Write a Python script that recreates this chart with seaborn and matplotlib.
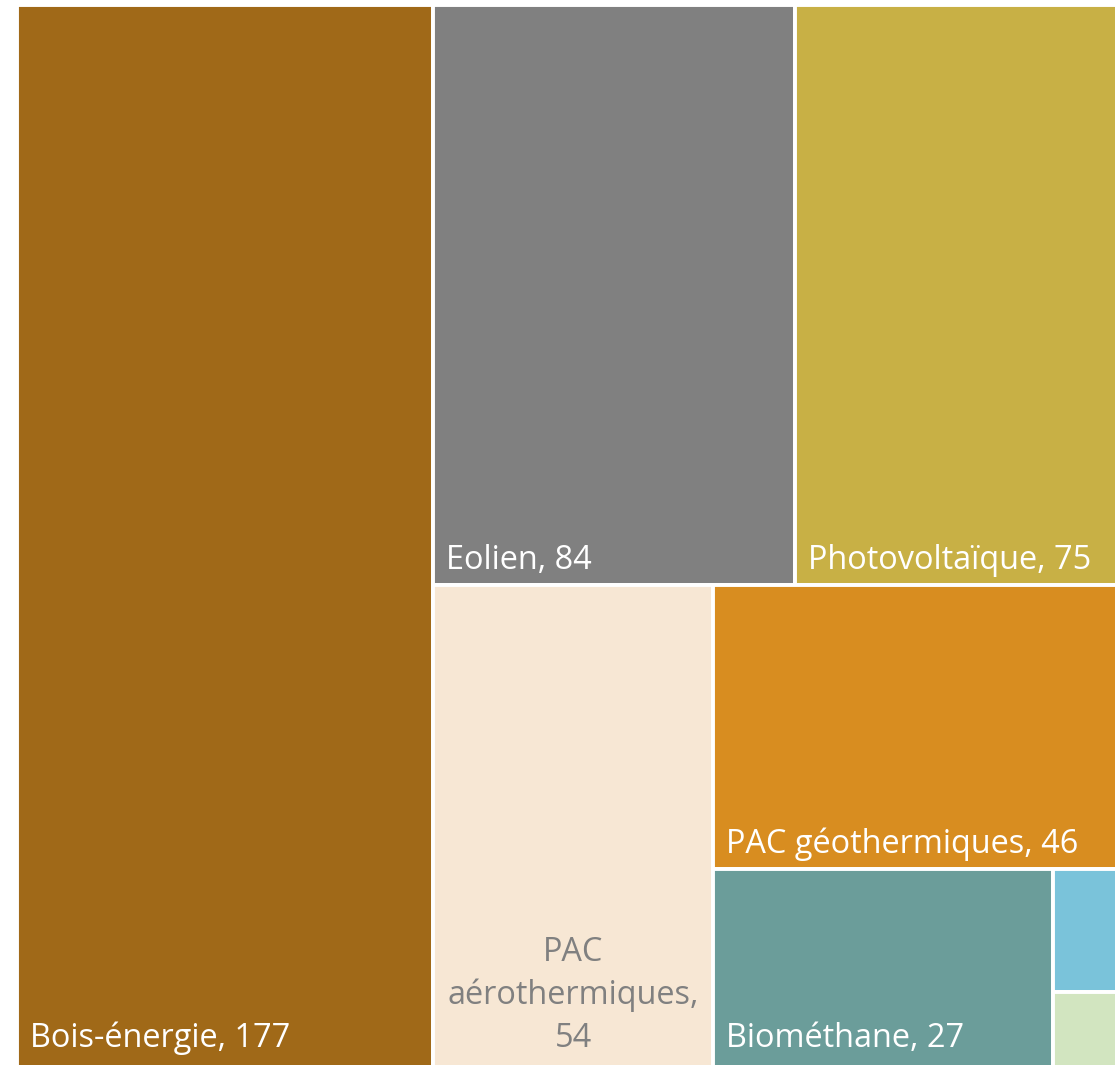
import matplotlib
matplotlib.use("Agg")
import matplotlib.pyplot as plt
import seaborn as sns
from matplotlib.patches import Rectangle

# ---- data ----
categories = ["Bois-énergie", "Eolien", "Photovoltaïque", "PAC aérothermiques",
              "PAC géothermiques", "Biométhane", "Hydroélectricité", "Solaire thermique"]
values = [177, 84, 75, 54, 46, 27, 3.2, 2]
colors = ["#A06918", "#808080", "#C8B045", "#F7E7D4",
          "#D88D20", "#6B9D9A", "#7AC3DA", "#D2E5C0"]
text_colors = ["white", "white", "white", "#808080", "white", "white", "white", "white"]
show_label = [True, True, True, True, True, True, False, False]
row_sizes = [1, 2, 1, 1, 1, 1, 1]   # squarified row breaks

sns.set_theme(style="white")
plt.rcParams['font.family'] = ['Open Sans', 'DejaVu Sans']

FW, FH = 1115, 1065
W, H = 1101, 1063


def layout(vals, W, H, rows):
    rects = []
    x0, y0, w, h = 0.0, 0.0, float(W), float(H)
    scale = W * H / sum(vals)
    i = 0
    for n in rows:
        row = vals[i:i + n]
        i += n
        area = sum(row) * scale
        if w >= h:
            cw = area / h
            yy = y0
            for v in row:
                rh = v * scale / cw
                rects.append((x0, yy, cw, rh))
                yy += rh
            x0 += cw
            w -= cw
        else:
            rh = area / w
            xx = x0
            for v in row:
                rw = v * scale / rh
                rects.append((xx, y0, rw, rh))
                xx += rw
            y0 += rh
            h -= rh
    return rects


fig = plt.figure(figsize=(FW / 100, FH / 100), dpi=100)
ax = fig.add_axes([17 / FW, (FH - 5 - H) / FH, W / FW, H / FH])
ax.set_xlim(0, W)
ax.set_ylim(H, 0)
ax.axis("off")

rects = layout(values, W, H, row_sizes)
for (x, y, w, h), c in zip(rects, colors):
    ax.add_patch(Rectangle((x, y), w, h, facecolor=c, edgecolor="white",
                           linewidth=2.8, clip_on=False))

fig.canvas.draw()
renderer = fig.canvas.get_renderer()
FS = 23.4
PAD = 12


def text_width(s):
    t = ax.text(0, 0, s, fontsize=FS)
    wpx = t.get_window_extent(renderer).width
    t.remove()
    return wpx


for (x, y, w, h), name, v, tc, show in zip(rects, categories, values, text_colors, show_label):
    if not show:
        continue
    label = f"{name}, {v:g}"
    off = 21 if y + h > H - 1 else 16
    if text_width(label) <= w - 2 * PAD:
        ax.text(x + PAD + 1, y + h - off, label, fontsize=FS, color=tc,
                ha="left", va="baseline")
    else:
        words = label.split(" ")
        lines, cur = [], ""
        for wd in words:
            trial = (cur + " " + wd).strip()
            if cur and text_width(trial) > w - 2 * PAD:
                lines.append(cur)
                cur = wd
            else:
                cur = trial
        lines.append(cur)
        ax.text(x + w / 2, y + h - off, "\n".join(lines), fontsize=FS, color=tc,
                ha="center", va="baseline", multialignment="center", linespacing=1.38)

fig.savefig("out.png", dpi=100)
